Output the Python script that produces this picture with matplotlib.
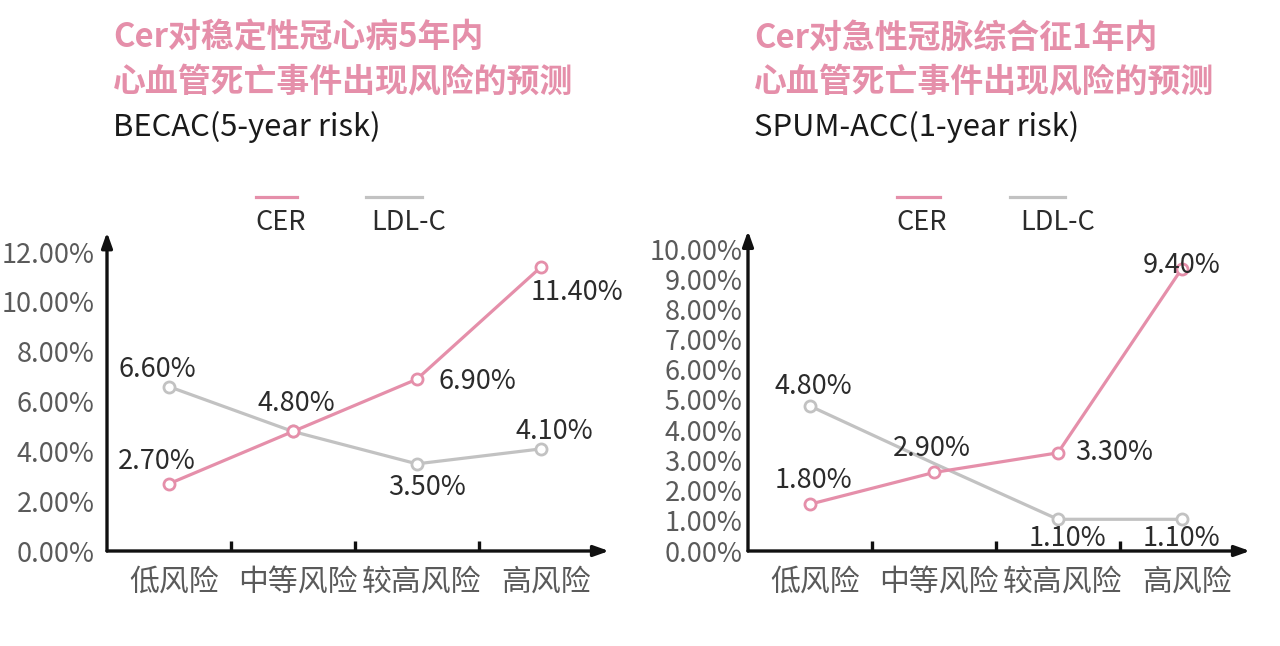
import numpy as np
import matplotlib
matplotlib.use('Agg')
import matplotlib.pyplot as plt
from matplotlib.lines import Line2D

plt.rcParams['font.family'] = ['Noto Sans CJK SC', 'DejaVu Sans']

# data
categories = ['低风险', '中等风险', '较高风险', '高风险']

becac_cer = [2.7, 4.8, 6.9, 11.4]
becac_ldl = [6.6, 4.8, 3.5, 4.1]
becac_cer_lbl = ['2.70%', '4.80%', '6.90%', '11.40%']
becac_ldl_lbl = ['6.60%', '', '3.50%', '4.10%']
becac_yticks = [0, 2, 4, 6, 8, 10, 12]

# points as drawn in the source, printed labels are a bit off from them
acc_cer = [1.55, 2.6, 3.25, 9.35]
acc_ldl = [4.8, 2.9, 1.05, 1.05]
acc_cer_lbl = ['1.80%', '2.90%', '3.30%', '9.40%']
acc_ldl_lbl = ['4.80%', '', '1.10%', '1.10%']
acc_yticks = [0, 1, 2, 3, 4, 5, 6, 7, 8, 9, 10]

PINK = '#E58FAA'
GREY = '#C2C2C2'
TXT = '#2b2b2b'
TICK = '#5a5a5a'

W, H = 1280, 646
fig = plt.figure(figsize=(W / 100, H / 100), dpi=100)


def fx(px):
    return px / W


def fy(py):
    return 1 - py / H


def panel(ax_px, ymax, yticks, cer, ldl, cer_lbl, ldl_lbl, cer_off, ldl_off,
          ldl_marks, ypad, titles, leg):
    left, bottom, width, height = ax_px
    ax = fig.add_axes([fx(left), fy(bottom), fx(width), height / H])
    x = np.arange(len(categories)) + 0.5
    ax.plot(x, ldl, color=GREY, lw=2.3, marker='o', ms=8, mfc='white',
            mec=GREY, mew=2, markevery=ldl_marks, zorder=3)
    ax.plot(x, cer, color=PINK, lw=2.3, marker='o', ms=8, mfc='white',
            mec=PINK, mew=2, zorder=4)
    for xi, v, t, (dx, dy) in zip(x, cer, cer_lbl, cer_off):
        if t:
            ax.annotate(t, (xi, v), xytext=(dx * 0.72, dy * 0.72),
                        textcoords='offset points', ha='center', va='center',
                        fontsize=19.5, color=TXT, zorder=5)
    for xi, v, t, (dx, dy) in zip(x, ldl, ldl_lbl, ldl_off):
        if t:
            ax.annotate(t, (xi, v), xytext=(dx * 0.72, dy * 0.72),
                        textcoords='offset points', ha='center', va='center',
                        fontsize=19.5, color=TXT, zorder=5)

    ax.set_xlim(0, 4.05)
    ax.set_ylim(0, ymax)
    for s in ax.spines.values():
        s.set_visible(False)
    ax.patch.set_alpha(0)
    arw = dict(arrowstyle='-|>,head_length=0.9,head_width=0.32', lw=2.4,
               color='#111111', shrinkA=0, shrinkB=0)
    ax.annotate('', xy=(1, 0), xytext=(0, 0), xycoords='axes fraction',
                arrowprops=arw, annotation_clip=False)
    ax.annotate('', xy=(0, 1), xytext=(0, 0), xycoords='axes fraction',
                arrowprops=arw, annotation_clip=False)

    ax.set_yticks(yticks)
    ax.set_yticklabels([f'{v:.2f}%' for v in yticks])
    ax.tick_params(axis='y', length=0, pad=ypad, labelsize=19.5, labelcolor=TICK)
    ax.set_xticks([1, 2, 3])
    ax.set_xticklabels([])
    ax.set_xticks(x + 0.04, minor=True)
    ax.set_xticklabels(categories, minor=True)
    ax.tick_params(axis='x', which='major', direction='in', length=7,
                   width=2.4, color='#111111')
    ax.tick_params(axis='x', which='minor', length=0, pad=11, labelsize=21.5,
                   labelcolor=TICK)

    # titles
    tx = left + 6
    fig.text(fx(tx), fy(38), titles[0], fontsize=23.7, fontweight='bold',
             color=PINK, va='center', ha='left')
    fig.text(fx(tx), fy(82), titles[1], fontsize=23.7, fontweight='bold',
             color=PINK, va='center', ha='left')
    fig.text(fx(tx), fy(127), titles[2], fontsize=22.3, color='#1a1a1a',
             va='center', ha='left')

    # legend
    (p0, p1, pc), (g0, g1, gc) = leg
    fig.add_artist(Line2D([fx(p0), fx(p1)], [fy(197), fy(197)], color=PINK,
                          lw=2.3, transform=fig.transFigure))
    fig.add_artist(Line2D([fx(g0), fx(g1)], [fy(197), fy(197)], color=GREY,
                          lw=2.3, transform=fig.transFigure))
    fig.text(fx(pc), fy(222), 'CER', fontsize=19.5, color=TXT, ha='center',
             va='center')
    fig.text(fx(gc), fy(222), 'LDL-C', fontsize=19.5, color=TXT, ha='center',
             va='center')
    return ax


panel((107, 551, 502, 12.8 * 24.9), 12.8, becac_yticks,
      becac_cer, becac_ldl, becac_cer_lbl, becac_ldl_lbl,
      [(-12, 22), (3, 28), (60, -2), (36, -25)],
      [(-12, 17), (0, 0), (10, -24), (13, 17)],
      [0, 1, 2, 3], 9,
      ['Cer对稳定性冠心病5年内', '心血管死亡事件出现风险的预测', 'BECAC(5-year risk)'],
      [(256, 297, 281), (366, 422, 409)])

panel((748, 551, 502, 10.6 * 30.2), 10.6, acc_yticks,
      acc_cer, acc_ldl, acc_cer_lbl, acc_ldl_lbl,
      [(3, 24), (-2, 24), (56, 0), (0, 3)],
      [(3, 20), (0, 0), (10, -19), (0, -19)],
      [0, 2, 3], 4,
      ['Cer对急性冠脉综合征1年内', '心血管死亡事件出现风险的预测', 'SPUM-ACC(1-year risk)'],
      [(897, 940, 922), (1010, 1065, 1058)])

fig.savefig('out.png', dpi=100, facecolor='white')
